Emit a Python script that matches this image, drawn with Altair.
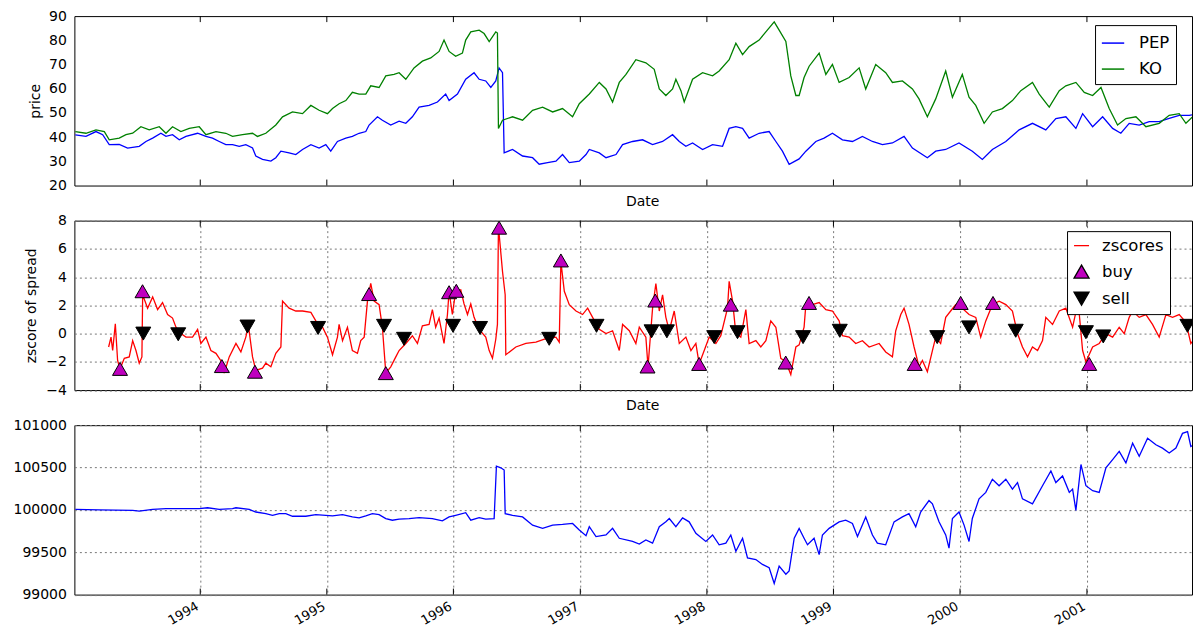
import altair as alt
import pandas as pd

FONT = "DejaVu Sans"

# ---------------- data (decimal years) ----------------
pep_years = [1993.013, 1993.097, 1993.176, 1993.229, 1993.281, 1993.360, 1993.426, 1993.518, 1993.571, 1993.624,
             1993.689, 1993.729, 1993.781, 1993.834, 1993.887, 1993.979, 1994.045, 1994.097, 1994.150, 1994.202,
             1994.255, 1994.308, 1994.360, 1994.413, 1994.439, 1994.492, 1994.558, 1994.597, 1994.637, 1994.702,
             1994.755, 1994.808, 1994.874, 1994.939, 1994.992, 1995.031, 1995.084, 1995.150, 1995.202, 1995.255,
             1995.308, 1995.334, 1995.400, 1995.439, 1995.505, 1995.571, 1995.624, 1995.676, 1995.729, 1995.808,
             1995.874, 1995.939, 1995.966, 1996.032, 1996.097, 1996.163, 1996.203, 1996.255, 1996.295, 1996.334,
             1996.360, 1996.387, 1996.400, 1996.466, 1996.545, 1996.624, 1996.676, 1996.742, 1996.808, 1996.860,
             1996.913, 1996.992, 1997.045, 1997.071, 1997.150, 1997.203, 1997.282, 1997.334, 1997.413, 1997.492,
             1997.571, 1997.650, 1997.729, 1997.782, 1997.834, 1997.887, 1997.966, 1998.045, 1998.124, 1998.176,
             1998.229, 1998.282, 1998.334, 1998.413, 1998.492, 1998.545, 1998.597, 1998.650, 1998.729, 1998.782,
             1998.861, 1998.926, 1998.992, 1999.071, 1999.150, 1999.229, 1999.308, 1999.387, 1999.466, 1999.558,
             1999.624, 1999.742, 1999.808, 1999.887, 1999.992, 2000.097, 2000.176, 2000.255, 2000.361, 2000.466,
             2000.571, 2000.676, 2000.755, 2000.834, 2000.913, 2000.966, 2001.045, 2001.124, 2001.203, 2001.268,
             2001.334, 2001.413, 2001.492, 2001.571, 2001.650, 2001.729, 2001.808, 2001.900]
pep_values = [40.9, 40.3, 42.3, 41.0, 36.9, 37.0, 35.5, 36.2, 38.2, 39.6,
              41.6, 40.3, 41.0, 38.9, 40.3, 41.6, 40.3, 39.6, 38.2, 36.9,
              36.9, 36.2, 36.9, 35.5, 32.2, 30.8, 30.1, 31.5, 34.2, 33.5,
              32.8, 34.9, 36.9, 35.5, 36.9, 34.2, 38.2, 39.6, 40.3, 41.6,
              42.3, 45.0, 48.4, 47.0, 45.0, 46.6, 45.7, 48.4, 52.4, 53.1,
              54.5, 57.8, 55.1, 57.8, 63.9, 66.6, 63.9, 63.2, 60.5, 63.2,
              68.6, 66.6, 33.5, 34.9, 32.2, 31.5, 28.8, 29.5, 30.1, 32.8,
              29.5, 30.1, 32.8, 34.9, 33.5, 31.5, 32.8, 36.9, 38.2, 38.9,
              36.9, 38.2, 41.0, 38.2, 36.2, 37.6, 34.9, 36.9, 36.2, 43.6,
              44.3, 43.6, 39.6, 41.6, 42.3, 38.2, 34.2, 28.8, 31.0, 34.2,
              38.2, 39.6, 41.6, 38.9, 38.2, 40.3, 38.2, 36.9, 37.6, 40.3,
              35.5, 31.5, 34.2, 34.9, 37.6, 34.2, 30.8, 34.9, 38.2, 43.0,
              45.7, 43.0, 47.7, 48.4, 43.6, 49.7, 44.3, 48.4, 43.6, 41.6,
              45.7, 45.0, 46.4, 46.4, 47.7, 49.0, 49.0, 49.7]

ko_years = [1993.013, 1993.097, 1993.176, 1993.242, 1993.281, 1993.360, 1993.413, 1993.466, 1993.531, 1993.597,
            1993.676, 1993.729, 1993.781, 1993.847, 1993.913, 1993.992, 1994.045, 1994.124, 1994.202, 1994.255,
            1994.334, 1994.413, 1994.452, 1994.518, 1994.597, 1994.650, 1994.729, 1994.808, 1994.874, 1994.939,
            1995.005, 1995.045, 1995.097, 1995.150, 1995.202, 1995.255, 1995.308, 1995.347, 1995.413, 1995.466,
            1995.531, 1995.571, 1995.624, 1995.689, 1995.755, 1995.821, 1995.887, 1995.926, 1995.966, 1996.018,
            1996.071, 1996.097, 1996.137, 1996.203, 1996.242, 1996.282, 1996.334, 1996.347, 1996.355, 1996.387,
            1996.466, 1996.545, 1996.624, 1996.703, 1996.782, 1996.860, 1996.939, 1996.992, 1997.071, 1997.150,
            1997.203, 1997.255, 1997.308, 1997.361, 1997.439, 1997.518, 1997.584, 1997.624, 1997.676, 1997.729,
            1997.755, 1997.795, 1997.821, 1997.887, 1997.966, 1998.045, 1998.097, 1998.176, 1998.229, 1998.282,
            1998.334, 1998.413, 1998.466, 1998.532, 1998.571, 1998.624, 1998.663, 1998.703, 1998.729, 1998.768,
            1998.808, 1998.887, 1998.940, 1998.992, 1999.045, 1999.124, 1999.203, 1999.255, 1999.334, 1999.413,
            1999.466, 1999.545, 1999.624, 1999.676, 1999.742, 1999.808, 1999.887, 1999.940, 2000.018, 2000.071,
            2000.124, 2000.190, 2000.255, 2000.334, 2000.413, 2000.479, 2000.571, 2000.624, 2000.703, 2000.782,
            2000.834, 2000.913, 2000.979, 2001.045, 2001.111, 2001.176, 2001.242, 2001.308, 2001.387, 2001.466,
            2001.571, 2001.650, 2001.729, 2001.782, 2001.847, 2001.900]
ko_values = [42.3, 41.6, 43.0, 42.3, 38.9, 39.6, 41.0, 41.6, 44.3, 43.0,
             44.3, 41.6, 44.3, 42.3, 43.6, 44.3, 41.0, 42.3, 41.6, 40.3,
             41.0, 41.6, 40.3, 41.6, 45.0, 48.4, 50.4, 49.7, 53.1, 51.1,
             49.7, 51.8, 53.8, 55.1, 58.5, 57.8, 57.8, 61.2, 60.5, 65.3,
             65.9, 66.6, 63.9, 68.6, 71.4, 72.7, 75.4, 80.1, 75.4, 73.4,
             74.7, 80.1, 83.5, 84.2, 82.8, 79.5, 83.5, 83.0, 43.6, 47.0,
             48.4, 47.0, 51.1, 52.4, 50.4, 51.8, 48.4, 53.8, 57.8, 62.6,
             59.9, 54.5, 62.6, 65.9, 72.0, 70.7, 68.0, 59.9, 57.2, 59.9,
             63.9, 59.2, 54.5, 63.9, 66.6, 65.3, 67.3, 72.0, 78.8, 74.1,
             77.4, 80.1, 83.5, 87.6, 84.2, 79.5, 65.3, 57.2, 57.2, 64.6,
             69.3, 74.7, 65.9, 70.0, 62.6, 64.6, 68.6, 59.9, 70.0, 66.6,
             62.6, 63.2, 59.9, 55.8, 48.4, 55.8, 67.3, 56.5, 65.9, 56.5,
             53.1, 45.7, 50.4, 51.8, 55.1, 59.2, 62.6, 57.8, 52.4, 59.2,
             61.2, 62.6, 58.5, 57.2, 60.5, 51.8, 45.0, 47.7, 48.4, 44.3,
             45.7, 49.0, 49.7, 45.7, 49.0, 49.7]

z_years = [1993.276, 1993.295, 1993.308, 1993.329, 1993.347, 1993.366, 1993.400, 1993.439, 1993.466, 1993.492,
           1993.518, 1993.539, 1993.545, 1993.584, 1993.624, 1993.663, 1993.702, 1993.742, 1993.781, 1993.808,
           1993.847, 1993.887, 1993.939, 1993.979, 1994.005, 1994.045, 1994.084, 1994.124, 1994.176, 1994.189,
           1994.229, 1994.282, 1994.321, 1994.360, 1994.381, 1994.413, 1994.439, 1994.492, 1994.518, 1994.558,
           1994.597, 1994.637, 1994.650, 1994.702, 1994.755, 1994.808, 1994.874, 1994.913, 1994.966, 1995.005,
           1995.045, 1995.084, 1995.097, 1995.124, 1995.163, 1995.202, 1995.242, 1995.268, 1995.295, 1995.321,
           1995.347, 1995.374, 1995.413, 1995.439, 1995.466, 1995.505, 1995.545, 1995.571, 1995.624, 1995.676,
           1995.716, 1995.755, 1995.808, 1995.834, 1995.860, 1995.887, 1995.926, 1995.953, 1995.966, 1995.992,
           1996.018, 1996.058, 1996.084, 1996.111, 1996.137, 1996.163, 1996.203, 1996.255, 1996.282, 1996.308,
           1996.334, 1996.347, 1996.355, 1996.387, 1996.408, 1996.413, 1996.492, 1996.571, 1996.650, 1996.729,
           1996.808, 1996.834, 1996.847, 1996.874, 1996.913, 1996.966, 1997.018, 1997.058, 1997.097, 1997.150,
           1997.203, 1997.255, 1997.308, 1997.334, 1997.387, 1997.439, 1997.466, 1997.518, 1997.535, 1997.571,
           1997.597, 1997.624, 1997.650, 1997.676, 1997.703, 1997.742, 1997.782, 1997.834, 1997.874, 1997.913,
           1997.939, 1997.979, 1998.018, 1998.071, 1998.110, 1998.163, 1998.176, 1998.203, 1998.229, 1998.268,
           1998.308, 1998.334, 1998.387, 1998.426, 1998.466, 1998.505, 1998.545, 1998.584, 1998.624, 1998.663,
           1998.703, 1998.729, 1998.768, 1998.782, 1998.834, 1998.887, 1998.940, 1998.992, 1999.045, 1999.071,
           1999.124, 1999.176, 1999.229, 1999.282, 1999.361, 1999.413, 1999.466, 1999.492, 1999.532, 1999.558,
           1999.597, 1999.637, 1999.676, 1999.703, 1999.742, 1999.782, 1999.808, 1999.847, 1999.887, 1999.926,
           1999.966, 2000.018, 2000.071, 2000.124, 2000.163, 2000.203, 2000.255, 2000.308, 2000.361, 2000.413,
           2000.453, 2000.492, 2000.532, 2000.571, 2000.611, 2000.650, 2000.676, 2000.729, 2000.782, 2000.834,
           2000.887, 2000.926, 2000.940, 2000.966, 2000.992, 2001.045, 2001.097, 2001.150, 2001.203, 2001.255,
           2001.295, 2001.334, 2001.361, 2001.413, 2001.466, 2001.518, 2001.571, 2001.624, 2001.676, 2001.729,
           2001.782, 2001.821, 2001.861, 2001.900]
z_values = [-0.95, -0.25, -1.2, 0.7, -1.9, -2.5, -1.75, -1.65, -0.5, -1.2,
            -2.1, -1.65, 2.75, 1.8, 2.6, 1.7, 2.2, 1.35, 1.1, 0.45,
            0.0, -0.25, -0.25, 0.3, -0.7, -0.25, -1.2, -1.4, -2.1, -2.8,
            -1.65, -0.7, -1.3, -0.25, 0.55, -1.65, -2.6, -2.45, -2.1, -2.35,
            -1.4, -0.95, 2.3, 1.8, 1.6, 1.6, 1.5, 0.9, 0.45, -0.25,
            -1.5, -0.25, 0.65, -0.5, 0.45, -1.2, -1.4, -0.5, -0.25, 2.3,
            3.55, 2.3, 2.05, 0.45, -2.8, -2.35, -1.65, -1.2, -0.7, -0.15,
            -0.7, 0.55, 0.65, 1.7, 0.45, 1.1, -0.7, 1.35, 3.0, 1.35,
            3.0, 3.1, 2.1, 1.35, 2.1, 1.15, 0.3, -0.25, -1.2, -1.75,
            -0.4, 0.65, 7.6, 4.4, 2.75, -1.5, -0.95, -0.7, -0.6, -0.35,
            -0.25, -0.6, 5.1, 3.0, 2.05, 1.6, 1.35, 1.8, 1.15, 0.3,
            0.0, 0.2, -1.2, 0.65, 0.2, -0.7, 0.45, -0.25, -2.35, 1.8,
            3.55, 1.6, 2.75, 1.15, 0.2, 1.6, -0.7, -0.25, -1.2, -0.7,
            -2.15, -1.2, -0.25, -0.7, -0.15, 1.8, 3.7, 2.3, 0.0, -0.25,
            1.7, -0.7, -0.5, -0.95, -0.5, 0.9, 0.45, -1.75, -2.0, -2.9,
            -0.95, -0.8, 0.45, 2.05, 2.05, 2.2, 1.7, 1.6, 0.9, -0.15,
            -0.25, -0.7, -0.5, -0.95, -0.7, -1.3, -1.65, 0.2, 1.35, 1.8,
            0.65, -0.95, -2.35, -1.9, -2.7, -1.2, -0.25, -0.7, 1.15, 1.6,
            2.05, 1.8, 1.35, 1.15, -0.25, 0.9, 2.05, 2.3, 2.05, 1.6,
            0.0, -0.95, -1.65, -0.95, -1.2, -0.5, 1.15, 0.65, 1.6, 1.8,
            0.45, 2.05, 1.35, -1.2, -2.0, -0.95, -0.7, 0.0, -0.25, 0.45,
            0.0, 1.15, 1.6, 1.15, 1.35, 0.65, -0.25, 1.35, 1.15, 1.35,
            0.8, -0.7, -0.25, -0.7]

buy_years = [1993.366, 1993.544, 1994.171, 1994.432, 1995.334, 1995.466, 1995.966, 1996.023, 1996.360, 1996.847,
             1997.531, 1997.592, 1997.939, 1998.189, 1998.623, 1998.807, 1999.642, 2000.005, 2000.260, 2000.926,
             2001.018]
buy_values = [-2.5, 3.0, -2.3, -2.7, 2.8, -2.8, 2.93, 3.03, 7.5, 5.18,
              -2.33, 2.34, -2.15, 2.05, -2.05, 2.17, -2.15, 2.17, 2.17, 2.05,
              -2.15]
sell_years = [1993.550, 1993.826, 1994.373, 1994.931, 1995.452, 1995.610, 1995.997, 1996.210, 1996.755, 1997.128,
              1997.563, 1997.684, 1998.058, 1998.242, 1998.760, 1999.050, 1999.820, 2000.071, 2000.439, 2000.992,
              2001.129, 2001.794]
sell_values = [0.0, -0.05, 0.5, 0.4, 0.55, -0.37, 0.55, 0.4, -0.37, 0.55,
               0.16, 0.16, -0.25, 0.1, -0.25, 0.2, -0.25, 0.44, 0.2, 0.1,
               -0.2, 0.55]

pv_years = [1993.013, 1993.202, 1993.466, 1993.518, 1993.624, 1993.729, 1993.860, 1993.992, 1994.058, 1994.150,
            1994.255, 1994.282, 1994.387, 1994.439, 1994.518, 1994.571, 1994.624, 1994.676, 1994.729, 1994.834,
            1994.913, 1995.045, 1995.124, 1995.202, 1995.255, 1995.308, 1995.360, 1995.413, 1995.466, 1995.518,
            1995.571, 1995.650, 1995.729, 1995.834, 1995.913, 1995.966, 1996.018, 1996.097, 1996.137, 1996.203,
            1996.255, 1996.321, 1996.339, 1996.374, 1996.400, 1996.408, 1996.466, 1996.545, 1996.624, 1996.703,
            1996.782, 1996.860, 1996.939, 1996.992, 1997.045, 1997.071, 1997.124, 1997.203, 1997.255, 1997.308,
            1997.413, 1997.466, 1997.518, 1997.571, 1997.624, 1997.676, 1997.703, 1997.755, 1997.808, 1997.860,
            1997.913, 1997.992, 1998.045, 1998.097, 1998.150, 1998.189, 1998.229, 1998.282, 1998.321, 1998.387,
            1998.439, 1998.492, 1998.532, 1998.571, 1998.624, 1998.650, 1998.690, 1998.729, 1998.768, 1998.795,
            1998.847, 1998.887, 1998.913, 1998.966, 1999.045, 1999.097, 1999.150, 1999.190, 1999.255, 1999.308,
            1999.347, 1999.413, 1999.479, 1999.545, 1999.597, 1999.650, 1999.689, 1999.755, 1999.782, 1999.834,
            1999.887, 1999.913, 1999.940, 1999.992, 2000.032, 2000.071, 2000.097, 2000.150, 2000.203, 2000.255,
            2000.308, 2000.361, 2000.413, 2000.453, 2000.492, 2000.571, 2000.650, 2000.716, 2000.755, 2000.808,
            2000.861, 2000.887, 2000.913, 2000.953, 2000.992, 2001.045, 2001.097, 2001.150, 2001.203, 2001.255,
            2001.308, 2001.361, 2001.413, 2001.479, 2001.545, 2001.597, 2001.650, 2001.703, 2001.755, 2001.795,
            2001.821, 2001.900]
pv_values = [100006, 100000, 99994, 99986, 100006, 100014, 100014, 100014, 100025, 100006,
             100014, 100025, 100006, 99975, 99956, 99936, 99956, 99956, 99925, 99925,
             99944, 99929, 99944, 99917, 99905, 99929, 99956, 99944, 99898, 99878,
             99890, 99898, 99909, 99898, 99871, 99917, 99936, 99967, 99878, 99909,
             99890, 99898, 100516, 100497, 100470, 99956, 99936, 99917, 99820, 99782,
             99820, 99828, 99840, 99762, 99696, 99801, 99685, 99704, 99782, 99665,
             99627, 99596, 99646, 99607, 99801, 99859, 99898, 99801, 99905, 99859,
             99723, 99627, 99704, 99588, 99607, 99704, 99511, 99665, 99434, 99414,
             99356, 99317, 99132, 99337, 99240, 99279, 99665, 99782, 99665, 99588,
             99665, 99472, 99704, 99782, 99859, 99878, 99840, 99685, 99917, 99704,
             99607, 99588, 99859, 99917, 99956, 99801, 99975, 100110, 100071, 99859,
             99704, 99549, 99898, 99975, 99820, 99627, 99898, 100130, 100207, 100362,
             100285, 100362, 100246, 100323, 100130, 100071, 100285, 100459, 100323, 100400,
             100207, 100246, 99994, 100536, 100285, 100226, 100207, 100497, 100594, 100690,
             100555, 100787, 100633, 100845, 100768, 100729, 100671, 100729, 100903, 100923,
             100749, 100807]

tick_years = [1994, 1995, 1996, 1997, 1998, 1999, 2000, 2001]
price_ticks = [20, 30, 40, 50, 60, 70, 80, 90]
z_ticks = [-4, -2, 0, 2, 4, 6, 8]
pv_ticks = [99000, 99500, 100000, 100500, 101000]
signal_names = ["zscores", "buy", "sell"]


def to_dates(years):
    out = []
    for y in years:
        yi = int(y)
        start = pd.Timestamp(year=yi, month=1, day=1)
        end = pd.Timestamp(year=yi + 1, month=1, day=1)
        out.append(start + (end - start) * (y - yi))
    return out


price_df = pd.concat([
    pd.DataFrame({"date": to_dates(pep_years), "price": pep_values, "series": "PEP", "order": 0}),
    pd.DataFrame({"date": to_dates(ko_years), "price": ko_values, "series": "KO", "order": 1}),
])
z_df = pd.DataFrame({"date": to_dates(z_years), "z": z_values})
sig_df = pd.concat([
    pd.DataFrame({"date": to_dates(buy_years), "z": buy_values, "series": "buy"}),
    pd.DataFrame({"date": to_dates(sell_years), "z": sell_values, "series": "sell"}),
])
pv_df = pd.DataFrame({"date": to_dates(pv_years), "value": pv_values})
tick_df = pd.DataFrame({"date": [pd.Timestamp(year=y, month=1, day=1) for y in tick_years]})

# ---------------- layout ----------------
W = 1118
H = 169.5
SPACING = 34.6
TICK = 6
GRID = dict(gridColor="#777777", gridDash=[2, 3], gridWidth=1)

x_scale = alt.Scale(domain=[alt.DateTime(year=1993, month=1, date=3),
                            alt.DateTime(year=2001, month=10, date=31)], nice=False)


def x_axis_hidden(grid):
    kw = dict(labels=False, ticks=False, domain=False, grid=grid, title="Date",
              titleX=568, titleY=15.5, titleBaseline="middle", titleAlign="center",
              tickCount="year")
    if grid:
        kw.update(GRID)
    return alt.Axis(**kw)


x_axis_bottom = alt.Axis(format="%Y", labelAngle=-30, labelAlign="right", labelBaseline="top",
                         labelPadding=5, labelOffset=-6, labelFlush=False, labelFontSize=13,
                         ticks=False, domain=False, grid=True, title=None, tickCount="year", **GRID)


def tick_layers(x_enc):
    top = alt.Chart(tick_df).mark_rule(color="black", strokeWidth=1).encode(
        x=x_enc, y=alt.value(0), y2=alt.value(TICK))
    bot = alt.Chart(tick_df).mark_rule(color="black", strokeWidth=1).encode(
        x=x_enc, y=alt.value(H - TICK), y2=alt.value(H))
    return [top, bot]


# --- top panel: prices
x_top = alt.X("date:T", scale=x_scale, axis=x_axis_hidden(False))
price_line = alt.Chart(price_df).mark_line(strokeWidth=1.3, clip=True).encode(
    x=x_top,
    y=alt.Y("price:Q", scale=alt.Scale(domain=[20, 90], zero=False, nice=False),
            axis=alt.Axis(values=price_ticks, title="price", titleX=-39, titleBaseline="middle",
                          ticks=False, domain=False, grid=False, labelPadding=8)),
    color=alt.Color("series:N",
                    scale=alt.Scale(domain=["PEP", "KO"], range=["#0000ff", "#008000"]),
                    legend=alt.Legend(orient="none", legendX=1021, legendY=9, title=None,
                                      symbolType="stroke", symbolSize=500, symbolStrokeWidth=1.5,
                                      rowPadding=5, labelOffset=14, padding=6)),
    order="order:Q",
)
top = alt.layer(price_line, *tick_layers(x_top)).properties(width=W, height=H)

# --- middle panel: z-scores with signals
x_mid = alt.X("date:T", scale=x_scale, axis=x_axis_hidden(True))
y_mid = alt.Y("z:Q", scale=alt.Scale(domain=[-4, 8], zero=False, nice=False),
              axis=alt.Axis(values=z_ticks, title="zscore of spread", titleX=-43, titleBaseline="middle",
                            ticks=False, domain=False, grid=True, labelPadding=8, **GRID))
mid_legend = alt.Legend(orient="none", legendX=993, legendY=H + SPACING + 11, title=None,
                        symbolSize=225, symbolStrokeWidth=1.3, rowPadding=8, labelOffset=12, padding=6)
z_line = alt.Chart(z_df).mark_line(color="#ff0000", strokeWidth=1.3, clip=True).encode(x=x_mid, y=y_mid)
sig_pts = alt.Chart(sig_df).mark_point(filled=True, size=225, strokeWidth=1, opacity=1, clip=True).encode(
    x=x_mid, y=y_mid,
    fill=alt.Fill("series:N", scale=alt.Scale(domain=signal_names, range=["#ff0000", "#bf00bf", "#000000"]),
                  legend=mid_legend),
    stroke=alt.Stroke("series:N", scale=alt.Scale(domain=signal_names, range=["#ff0000", "#000000", "#000000"]),
                      legend=mid_legend),
    shape=alt.Shape("series:N", scale=alt.Scale(domain=signal_names,
                                                range=["stroke", "triangle-up", "triangle-down"]),
                    legend=mid_legend),
)
mid = alt.layer(z_line, sig_pts, *tick_layers(x_mid)).properties(width=W, height=H)

# --- bottom panel: portfolio value
x_bot = alt.X("date:T", scale=x_scale, axis=x_axis_bottom)
pv_line = alt.Chart(pv_df).mark_line(color="#0000ff", strokeWidth=1.3, clip=True).encode(
    x=x_bot,
    y=alt.Y("value:Q", scale=alt.Scale(domain=[99000, 101000], zero=False, nice=False),
            axis=alt.Axis(values=pv_ticks, format="d", title=None, ticks=False, domain=False,
                          grid=True, labelPadding=8)),
)
bot = alt.layer(pv_line, *tick_layers(x_bot)).properties(width=W, height=H)

chart = alt.vconcat(top, mid, bot, spacing=SPACING, bounds="flush").properties(
    padding={"left": 4.4, "top": 0, "right": 0, "bottom": 0},
).configure_view(
    stroke="black", strokeWidth=1
).configure_axis(
    labelFont=FONT, titleFont=FONT, labelFontSize=14, titleFontSize=14, titleFontWeight="normal",
    labelColor="#000000", titleColor="#000000", **GRID
).configure_legend(
    labelFont=FONT, labelFontSize=16.5, labelColor="#000000", strokeColor="#000000", fillColor="#ffffff",
    cornerRadius=0, symbolOpacity=1
)

chart.save("out.html", embed_options={"renderer": "svg", "actions": False})
